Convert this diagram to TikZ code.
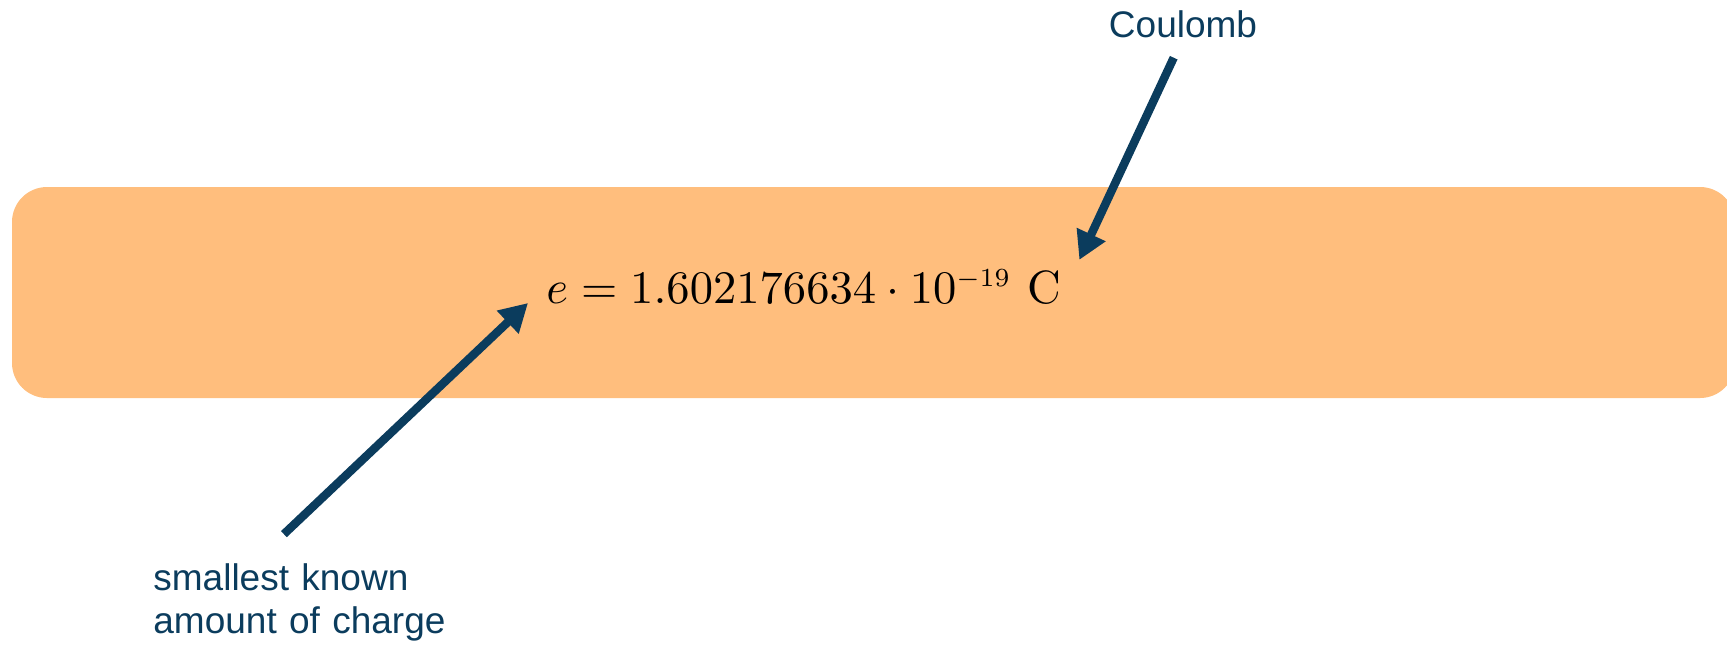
\documentclass[tikz,border=0pt]{standalone}
\usepackage{fontspec}
\usepackage{tikz}
\usetikzlibrary{arrows.meta,positioning}
\newfontfamily\labelfont{Liberation Sans}
\definecolor{band}{HTML}{FFBE7D}
\definecolor{ink}{HTML}{0B3C5D}

\begin{document}
\begin{tikzpicture}[
    x=0.5pt,y=-0.5pt,
    lbl/.style={inner sep=0pt,text=ink,font=\labelfont\fontsize{18.5}{21.5}\selectfont},
    pointer/.style={-{Triangle[length=14pt,width=15pt]},line width=4.2pt,ink},
    formula/.style={inner xsep=9pt,inner ysep=4.5pt}
]
\useasboundingbox (0,0) rectangle (1727,644);
\clip (0,0) rectangle (1727,644);

% Background band
\fill[band,rounded corners=17.5pt] (12,187) rectangle (1735,398);

% Formula
\node[formula,anchor=base west] (eq) at (528,303)
  {\scalebox{2.33}{$e = 1.602176634\cdot 10^{\scalebox{0.8}{$\scriptstyle -19$}}\ \mathrm{C}$}};

% Labels
\node[lbl,anchor=base] (coul) at (1183,37) {Coulomb};
\node[lbl,anchor=north west,text width=150pt,align=left] (small) at (153,563) {smallest known\\amount of charge};

\draw[pointer,shorten <=11pt] (coul.south) -- (eq.north east);
\draw[pointer,shorten <=21pt] ([xshift=-25pt]small.north) -- (eq.base west);
\end{tikzpicture}
\end{document}
